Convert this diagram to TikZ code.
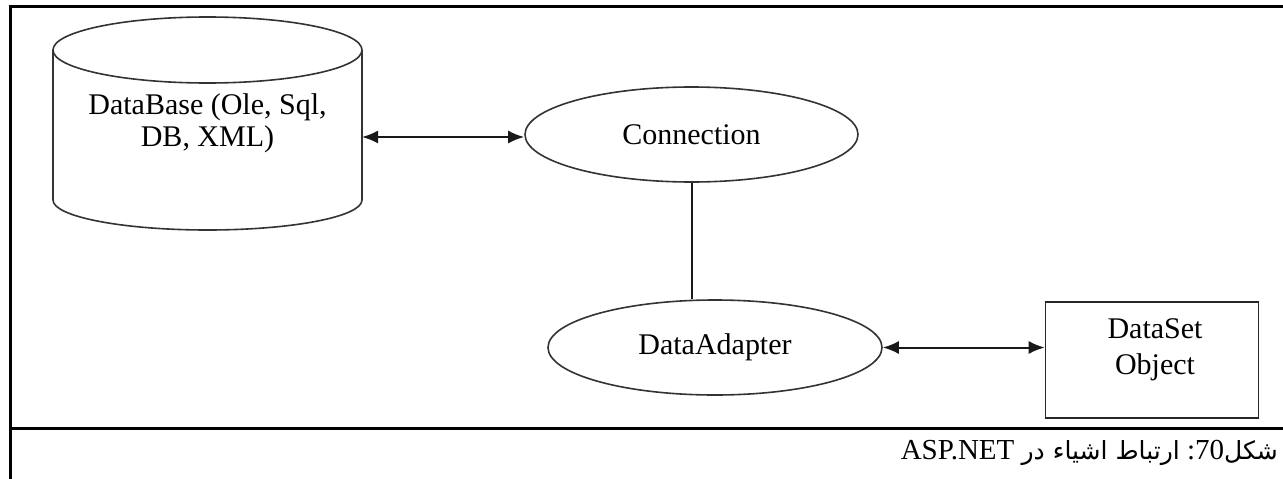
\documentclass[tikz,border=0pt]{standalone}
\usepackage{fontspec}
\setmainfont{Liberation Serif}
\newfontfamily\arabicfont[Script=Arabic]{DejaVu Sans}
\TeXXeTstate=1
\usetikzlibrary{arrows.meta,shapes.geometric,calc}
\begin{document}
\begin{tikzpicture}[x=1pt,y=-1pt,
  shapeline/.style={draw=black!80, line width=1.6pt},
  conn/.style={draw=black!90, line width=2pt},
  biarrow/.style={conn, {Latex[length=16pt,width=13pt]}-{Latex[length=16pt,width=13pt]}},
  frameline/.style={draw=black, line width=3pt},
  lbl/.style={font=\fontsize{30}{32}\selectfont, align=center, inner sep=0pt},
  oval/.style={shapeline, ellipse, inner sep=0pt, font=\fontsize{30}{32}\selectfont},
  arfont/.style={}]
\useasboundingbox (0,0) rectangle (1283,479);
\fill[white] (0,0) rectangle (1283,479);
% frame
\draw[frameline] (8.5,6) -- (1283,6);
\draw[frameline] (10,6) -- (10,479);
\draw[frameline] (10,428) -- (1283,428);
% cylinder
\draw[shapeline] (207.5,50) ellipse [x radius=154.5, y radius=33];
\draw[shapeline] (53,50) -- (53,200) arc[start angle=180, end angle=0, x radius=154.5, y radius=30] -- (362,50);
\node[lbl] (db) at (207.5,123) {DataBase (Ole, Sql,\\DB, XML)};
\coordinate (dbR) at (362,137);
% ovals
\node[oval, minimum width=333, minimum height=95] (cn) at (691.5,134.5) {Connection};
\node[oval, minimum width=334, minimum height=95] (da) at (715,347.5) {DataAdapter};
% dataset box
\node[draw=black!85, line width=1.6pt, minimum width=213, minimum height=116, inner sep=0pt] (ds) at (1152,360) {};
\node[lbl] (dst) at (1155,350) {DataSet\\[4pt]Object};
% connectors
\draw[biarrow] (dbR) -- (dbR -| cn.west);
\draw[conn] (cn.south) -- (cn.south |- da.north);
\draw[biarrow] (da.east) -- (da.east -| ds.west);
% caption
\node[anchor=base east, inner sep=0pt, font=\fontsize{29}{32}\selectfont] (cap) at (1278,459)
  {\beginR{\arabicfont\fontsize{25}{28}\selectfont شکل}\beginL 70\endL:\ {\arabicfont\fontsize{25}{28}\selectfont ارتباط اشیاء در} \beginL ASP.NET\endL\endR};
\end{tikzpicture}
\end{document}
